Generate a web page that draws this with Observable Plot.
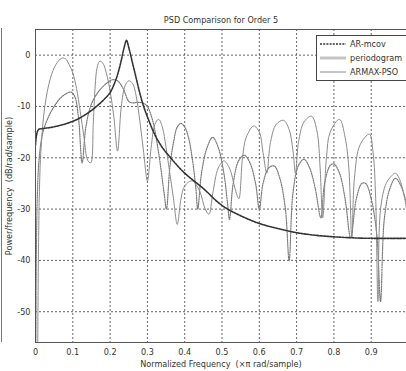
<!DOCTYPE html>
<html><head><meta charset="utf-8">
<script src="https://cdn.jsdelivr.net/npm/d3@7"></script>
<script src="https://cdn.jsdelivr.net/npm/@observablehq/plot@0.6"></script>
<style>body{margin:0;background:#fff}</style>
</head><body><div id="chart"></div>
<script>
const title = "PSD Comparison for Order 5";
const xLabel = "Normalized Frequency  (×π rad/sample)";
const yLabel = "Power/frequency  (dB/rad/sample)";
const seriesNames = ["AR-mcov", "periodogram", "ARMAX-PSO"];
const xTicks = [0, 0.1, 0.2, 0.3, 0.4, 0.5, 0.6, 0.7, 0.8, 0.9];
const yTicks = [-50, -40, -30, -20, -10, 0];

// AR-mcov: [frequency, dB]
const arMcov = [[0,-17.5],[0.003,-15.5],[0.008,-14.5],[0.02,-14.3],[0.04,-14.1],[0.06,-13.8],[0.08,-13.4],[0.1,-12.9],[0.12,-12.2],[0.14,-11.3],[0.16,-10.2],[0.18,-8.9],[0.2,-7.3],[0.21,-5.8],[0.22,-3.8],[0.23,-1],[0.238,1.6],[0.244,2.9],[0.25,1.5],[0.26,-1.5],[0.27,-4.5],[0.28,-7.5],[0.29,-10],[0.3,-12],[0.32,-15.5],[0.34,-18],[0.36,-19.8],[0.38,-21.5],[0.4,-23],[0.45,-26],[0.5,-29.3],[0.55,-31.3],[0.6,-32.8],[0.65,-33.8],[0.7,-34.6],[0.75,-35.1],[0.8,-35.4],[0.85,-35.6],[0.9,-35.7],[1,-35.7]];

// periodogram (dotted)
const periodogram = [[0.001,-56],[0.004,-30],[0.01,-20],[0.02,-15],[0.035,-12],[0.05,-10],[0.065,-8.5],[0.08,-7.6],[0.095,-7.2],[0.105,-8],[0.115,-12],[0.125,-21],[0.135,-14],[0.15,-9.5],[0.17,-7],[0.19,-5.5],[0.205,-4.8],[0.22,-5],[0.235,-6.5],[0.25,-9],[0.26,-9.3],[0.275,-9.2],[0.29,-9.4],[0.3,-10],[0.315,-13],[0.33,-19],[0.345,-27],[0.351,-30],[0.36,-22],[0.37,-17],[0.38,-14],[0.39,-13.3],[0.4,-14],[0.41,-16],[0.42,-20],[0.43,-26],[0.435,-30],[0.445,-23],[0.46,-18],[0.475,-16],[0.49,-18],[0.505,-23],[0.515,-29],[0.52,-32],[0.53,-25],[0.545,-20.5],[0.56,-19.5],[0.575,-21],[0.59,-25],[0.6,-30],[0.61,-25],[0.625,-22],[0.64,-21.6],[0.655,-24],[0.67,-30],[0.68,-40],[0.69,-27],[0.705,-21.5],[0.72,-20.3],[0.735,-22],[0.75,-26],[0.765,-31.7],[0.775,-25],[0.79,-21.5],[0.8,-21.2],[0.815,-23],[0.83,-28],[0.845,-35.6],[0.86,-28],[0.875,-25],[0.885,-25],[0.9,-28],[0.915,-35],[0.925,-48],[0.935,-32],[0.95,-26],[0.965,-24],[0.98,-25.5],[0.995,-29]];

// ARMAX-PSO (solid)
const armaxPso = [[0.006,-56],[0.01,-28],[0.015,-18],[0.025,-10],[0.04,-4.5],[0.055,-1.8],[0.07,-0.6],[0.08,-0.7],[0.09,-1.8],[0.1,-3.5],[0.11,-6.5],[0.12,-11],[0.13,-16],[0.14,-20.5],[0.148,-21],[0.155,-13],[0.16,-6],[0.165,-2.5],[0.172,-1.2],[0.18,-1.5],[0.19,-3.5],[0.2,-7],[0.21,-12],[0.22,-18.7],[0.23,-10],[0.24,-6],[0.25,-5],[0.26,-5.5],[0.27,-8],[0.28,-13],[0.29,-19],[0.3,-24.5],[0.31,-18],[0.32,-13.5],[0.33,-12.5],[0.34,-14],[0.35,-18],[0.36,-23],[0.37,-28],[0.38,-33],[0.39,-28],[0.4,-25.5],[0.42,-24.5],[0.44,-26.5],[0.455,-30],[0.465,-31],[0.475,-27],[0.49,-22],[0.505,-20.6],[0.52,-22],[0.535,-26],[0.545,-28],[0.555,-20],[0.565,-16],[0.585,-13.8],[0.6,-15],[0.61,-19],[0.62,-23],[0.63,-17],[0.645,-13.5],[0.665,-12.7],[0.68,-14.5],[0.69,-18.5],[0.697,-23],[0.705,-17],[0.72,-13],[0.74,-11.9],[0.755,-15],[0.763,-22],[0.77,-31.7],[0.78,-20],[0.79,-15],[0.815,-12.5],[0.83,-16],[0.84,-22],[0.848,-35.6],[0.855,-24],[0.87,-17.5],[0.895,-15.4],[0.905,-19],[0.912,-28],[0.918,-48],[0.925,-30],[0.94,-25],[0.955,-23.5],[0.965,-23],[0.975,-24],[0.99,-28],[1.0,-33]];

const font = "'Liberation Sans Narrow','DejaVu Sans Condensed','Arial Narrow','Liberation Sans',Arial,sans-serif";
const chart = Plot.plot({
  width: 406, height: 371,
  marginLeft: 35, marginRight: 0, marginTop: 29, marginBottom: 29,
  style: {fontFamily: font, fontSize: "9px", color: "#333", background: "#fff", fontStretch: "condensed"},
  x: {domain: [0, 0.9946], ticks: xTicks, tickFormat: d => String(d), tickSize: 0, tickPadding: 6,
      label: xLabel, labelAnchor: "center", labelArrow: "none", labelOffset: 24},
  y: {domain: [-56, 5], ticks: yTicks, tickFormat: d => String(d), tickSize: 0, tickPadding: 5,
      label: yLabel, labelAnchor: "center", labelArrow: "none", labelOffset: 30},
  marks: [
    Plot.gridX(xTicks.slice(1), {stroke: "#555", strokeOpacity: 0.9, strokeDasharray: "2,2"}),
    Plot.gridY(yTicks, {stroke: "#555", strokeOpacity: 0.9, strokeDasharray: "2,2"}),
    Plot.line(periodogram, {x: d => d[0], y: d => d[1], stroke: "#7a7a7a", strokeWidth: 1.2, strokeDasharray: "1.2,1.2", curve: "catmull-rom", clip: true}),
    Plot.line(armaxPso, {x: d => d[0], y: d => d[1], stroke: "#8c8c8c", strokeWidth: 1, curve: "catmull-rom", clip: true}),
    Plot.line(arMcov, {x: d => d[0], y: d => d[1], stroke: "#333", strokeWidth: 1.6, strokeDasharray: "2,1.2", curve: "catmull-rom", clip: true}),
    Plot.ruleX([0], {stroke: "#555"}),
    Plot.ruleY([-56, 5], {stroke: "#555"}),
    Plot.text([title], {frameAnchor: "top", lineAnchor: "bottom", dy: -7, fontSize: 9, fill: "#333"})
  ]
});
document.getElementById("chart").appendChild(chart);

// legend box and left neighbour edge
const svg = d3.select(chart);
svg.append("line").attr("x1", 1.5).attr("x2", 1.5).attr("y1", 28).attr("y2", 342).attr("stroke", "#777");
const lg = svg.append("g").attr("font-family", font).attr("font-size", 9).attr("fill", "#333").attr("text-anchor", "start");
lg.append("rect").attr("x", 316.5).attr("y", 35.5).attr("width", 100).attr("height", 45).attr("fill", "#fff").attr("stroke", "#444");
const legendStyles = [
  {stroke: "#333", w: 1.4, dash: "2,1.2"},
  {stroke: "#c4c4c4", w: 3, dash: null},
  {stroke: "#8c8c8c", w: 1, dash: null}
];
seriesNames.forEach((name, i) => {
  const y = 44 + i * 14;
  const s = legendStyles[i];
  const l = lg.append("line").attr("x1", 320).attr("x2", 346).attr("y1", y).attr("y2", y)
    .attr("stroke", s.stroke).attr("stroke-width", s.w);
  if (s.dash) l.attr("stroke-dasharray", s.dash);
  lg.append("text").attr("x", 350).attr("y", y).attr("dy", "0.35em").text(name);
});
</script></body></html>
